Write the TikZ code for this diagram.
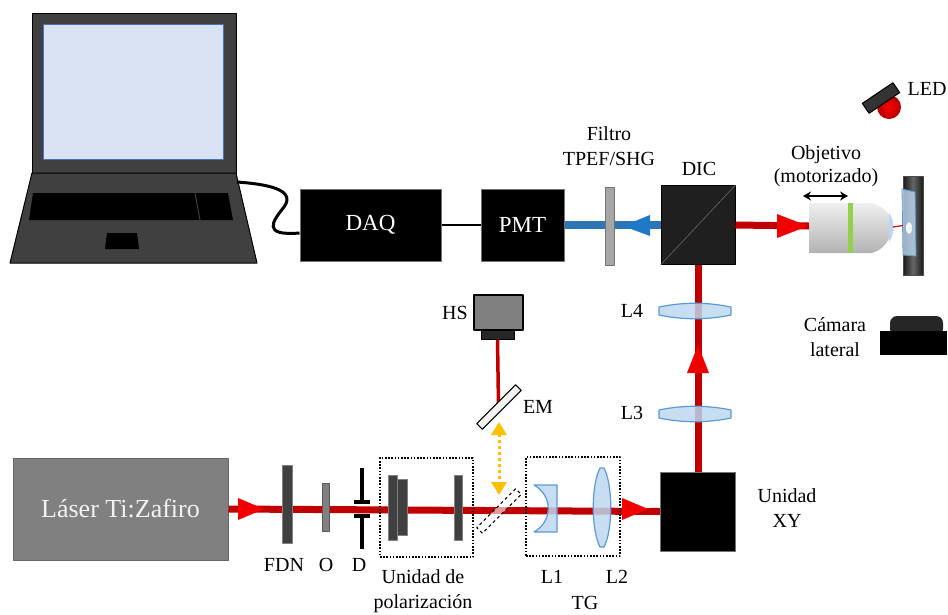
\documentclass[tikz,border=0pt]{standalone}
\usepackage{fontspec}
\setmainfont{Liberation Serif}
\usetikzlibrary{arrows.meta, shapes.geometric, positioning, calc}
\definecolor{beamred}{HTML}{C00000}
\definecolor{tipred}{HTML}{F00000}
\definecolor{beamblue}{HTML}{2E75B6}
\definecolor{tipblue}{HTML}{1F78C8}
\definecolor{lensfill}{HTML}{BDD7EE}
\definecolor{lensedge}{HTML}{5B9BD5}
\definecolor{lapgray}{HTML}{404040}
\definecolor{screenfill}{HTML}{DAE3F3}
\definecolor{screenedge}{HTML}{4472C4}
\definecolor{flipyellow}{HTML}{FFC000}
\definecolor{bandgreen}{HTML}{92D050}
\tikzset{
   blackbox/.style={draw=black!55, line width=1pt, fill=black, text=white, inner sep=0, font=\fontsize{23}{27}\selectfont},
   laserbox/.style={draw=black!60, line width=1pt, fill=black!50, text=black!5, inner sep=0, font=\fontsize{26}{30}\selectfont},
   plate/.style={draw=black!50, fill=black!75, line width=1pt, inner sep=0},
   filterplate/.style={draw=black!55, fill=black!35, line width=1pt, inner sep=0},
   cube/.style={draw=black, fill=black!88, line width=1pt, inner sep=0, minimum width=74, minimum height=79},
   dotbox/.style={draw, line width=1.6pt, dash pattern=on 1.6pt off 1.6pt, inner sep=0},
   lens/.style={draw=lensedge, fill=lensfill, line width=1.2pt, fill opacity=0.85},
   mirror/.style={draw=black, fill=black!5, line width=1pt, inner sep=0, minimum width=55, minimum height=8},
   flipmirror/.style={draw=black, dashed, fill=white, fill opacity=0.6, line width=1pt, inner sep=0, minimum width=55, minimum height=8},
   beam/.style={draw=beamred, line width=7pt},
   bluebeam/.style={draw=beamblue, line width=8pt},
   cable/.style={draw=black, line width=3pt},
   lapline/.style={draw=black, fill=lapgray, line width=1pt},
   lbl/.style={inner sep=0, align=center, font=\fontsize{20}{25}\selectfont}
}
\begin{document}
\begin{tikzpicture}[x=1pt, y=-1pt, line join=round]
\useasboundingbox (0,0) rectangle (948,614);

% computer
\draw[lapline] (32,13) rectangle (236,173);
\draw[draw=screenedge, fill=screenfill, line width=0.8pt] (43,24) rectangle (223,159);
\draw[lapline] (32,173) -- (236,173) -- (257,263) -- (10,263) -- cycle;
\fill[black] (33,193) -- (228,193) -- (233,220) -- (29,220) -- cycle;
\draw[lapgray, line width=1pt] (195,193) -- (200,220);
\fill[black] (107,233) -- (137,233) -- (139,249) -- (105,249) -- cycle;
\coordinate (lapport) at (237,182);

% acquisition chain
\node[blackbox, minimum width=141, minimum height=72] (daq) at (370.5,225) {DAQ};
\node[blackbox, minimum width=83, minimum height=72] (pmt) at (522.5,225) {PMT};
\draw[line width=2pt] (daq) -- (pmt);
\draw[cable] (lapport) .. controls (265,184) and (297,189) .. (284,207)
   .. controls (272,222) and (262,236) .. ([yshift=-8pt]daq.west);

% main boxes
\node[laserbox, minimum width=215, minimum height=102] (laser) at (120.5,509) {Láser Ti:Zafiro};
\node[blackbox, minimum width=75, minimum height=79] (xy) at (698,511.5) {};
\node[cube] (dic) at (698,225) {};
\draw[black!60, line width=0.6pt] (dic.south west) -- (dic.north east);
\coordinate (objin) at (809,226);
\coordinate (objtip) at (893,227);

% beams
\draw[beam] (laser.east) -- (xy.west);
\draw[beam] (xy.north) -- (dic.south);
\draw[beam] (dic.east) -- (objin);
\draw[bluebeam] (dic.west) -- (pmt.east);
\fill[tipred] (238,498) -- (264,509) -- (238,520) -- cycle;
\fill[tipred] (622,498) -- (648,509) -- (622,520) -- cycle;
\fill[tipred] (687,373) -- (698,345) -- (709,373) -- cycle;
\fill[tipred] (777,214) -- (808,226) -- (777,238) -- cycle;
\fill[tipblue] (650,215) -- (623,226) -- (650,236) -- cycle;

% filter
\node[filterplate, minimum width=9, minimum height=78] (filt) at (609.5,226) {};

% attenuation, polarizer, diaphragm
\node[plate, minimum width=10, minimum height=78] (fdn) at (287,504) {};
\node[plate, fill=black!50, draw=black!65, minimum width=7, minimum height=48] (ord) at (325.5,507) {};
\coordinate (diaph) at (362,509);
\draw[line width=4pt] (362,468) -- (362,502) (354,502) -- (370,502)
   (362,516) -- (362,549) (354,516) -- (370,516);
\node[dotbox, minimum width=93, minimum height=99] (pol) at (426.5,507.5) {};
\node[plate, minimum width=9, minimum height=65] (pola) at (392.5,507.5) {};
\node[plate, minimum width=10, minimum height=56] (polb) at (402,507) {};
\node[plate, minimum width=8, minimum height=65] (polc) at (458,507.5) {};

% telescope
\node[dotbox, minimum width=94, minimum height=99] (tg) at (573,506.5) {};
\draw[lens] (534,485) -- (557,485) -- (557,532) -- (534,532)
   .. controls (553,521) and (553,496) .. (534,485) -- cycle;
\draw[lens] (600,468) -- (604,468) .. controls (613,485) and (613,530) .. (604,547)
   -- (600,547) .. controls (591,530) and (591,485) .. (600,468) -- cycle;
\coordinate (lone) at (546,509);
\coordinate (ltwo) at (602,509);

% relay lenses
\draw[lens, shift={(695,311)}] (-36,-4) .. controls (-12,-9) and (12,-9) .. (36,-4)
   -- (36,4) .. controls (12,9) and (-12,9) .. (-36,4) -- cycle;
\draw[lens, shift={(695,414)}] (-36,-4) .. controls (-12,-9) and (12,-9) .. (36,-4)
   -- (36,4) .. controls (12,9) and (-12,9) .. (-36,4) -- cycle;
\coordinate (lfour) at (695,311);
\coordinate (lthree) at (695,414);

% beam profiler branch
\node[draw=black, fill=black!50, line width=1.2pt, minimum width=49, minimum height=35, inner sep=0] (hs) at (498.5,312.5) {};
\node[draw=black, fill=black!85, line width=1pt, minimum width=33, minimum height=9, inner sep=0] (hsb) at (497.5,334.5) {};
\coordinate (emc) at (498.5,405);
\draw[beam, line width=3.5pt] (hsb.south) -- (emc);
\node[mirror, rotate=45] (em) at (499,407) {};
\node[flipmirror, rotate=45] (flip) at (499,511) {};
\draw[flipyellow, line width=3pt, dash pattern=on 3pt off 3pt,
   {Triangle[length=13pt,width=15pt]}-{Triangle[length=13pt,width=15pt]},
   shorten <=15pt, shorten >=16pt] (em.center) -- (flip.center);

% objective and sample
\path[top color=black!6, bottom color=black!30] (809,203) -- (872,203)
   .. controls (882,206) and (889,212) .. (890,219) -- (890,234)
   .. controls (889,242) and (882,250) .. (872,253) -- (809,253) -- cycle;
\fill[bandgreen] (848,203) rectangle (853,253);
\fill[lensfill] (889,213) .. controls (895,220) and (895,235) .. (889,242) -- cycle;
\coordinate (motl) at (803,196);
\coordinate (motr) at (848,196);
\draw[{Stealth[length=8pt,width=9pt]}-{Stealth[length=8pt,width=9pt]}, line width=1.2pt] (motl) -- (motr);
\node[draw=black!70, left color=black!90, right color=black!90, middle color=black!60,
   minimum width=20, minimum height=99, inner sep=0] (sample) at (913,225.5) {};
\draw[draw=lensedge, fill=lensfill, fill opacity=0.8, line width=0.8pt]
   (902,189) -- (915,192) -- (916,256) -- (903,255) -- cycle;
\fill[white, opacity=0.9] (909,228) ellipse (3 and 6);
\draw[red!85!black, line width=1.2pt] (objtip) -- (sample.west);

% illumination and side camera
\shade[inner color=red, outer color=red!70!black] (889,107) circle (12);
\node[draw=black, fill=black!80, line width=1pt, rotate=34, minimum width=37, minimum height=12, inner sep=0] (led) at (881,98) {};
\fill[black!85, rounded corners=7] (890,336) rectangle (943,316);
\fill[black] (880,331) rectangle (947,355);
\coordinate (cam) at (913,335);

% labels
\node[lbl] (tfilt) at (609,146) {Filtro\\TPEF/SHG};
\node[lbl] (tdic) at (699,169) {DIC};
\node[lbl, font=\fontsize{20}{23}\selectfont] (tobj) at (826,166) {Objetivo\\(motorizado)};
\node[lbl] (tled) at (927,89) {LED};
\node[lbl] (tcam) at (835,337) {Cámara\\lateral};
\node[lbl] (ths) at (455,313) {HS};
\node[lbl] (tem) at (538,407) {EM};
\node[lbl] (tlfour) at (632,311) {L4};
\node[lbl] (tlthree) at (632,413) {L3};
\node[lbl] (txy) at (787,508) {Unidad\\XY};
\node[lbl] (tfdn) at (284,565) {FDN};
\node[lbl] (tord) at (326,565) {O};
\node[lbl] (tdiaph) at (359,565) {D};
\node[lbl] (tpol) at (423,591) {Unidad de\\polarización};
\node[lbl] (tlone) at (552,577) {L1};
\node[lbl] (tltwo) at (617,577) {L2};
\node[lbl] (ttg) at (585,603) {TG};
\end{tikzpicture}
\end{document}
